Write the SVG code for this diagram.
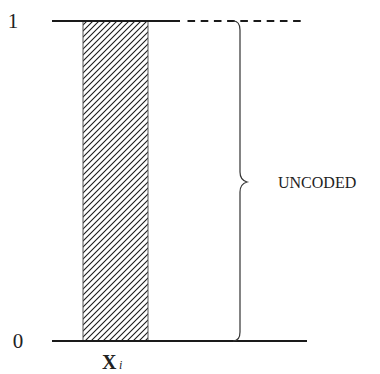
<svg xmlns="http://www.w3.org/2000/svg" width="380" height="374" viewBox="0 0 380 374">
<style>
.lbl{font-family:"Liberation Serif","Times New Roman",serif;fill:#222}
.axis{stroke:#1a1a1a;stroke-width:2;fill:none}
.brace{stroke:#333;stroke-width:1.2;fill:none}
</style>
<defs>
<pattern id="hatch" patternUnits="userSpaceOnUse" width="6" height="6">
<path d="M0,6 L6,0 M-1,1 L1,-1 M5,7 L7,5" stroke="#1a1a1a" stroke-width="1.1"/>
</pattern>
</defs>
<rect width="380" height="374" fill="#fff"/>
<g id="bar">
<rect x="83" y="21" width="65" height="320" fill="url(#hatch)"/>
<line x1="83" y1="21" x2="83" y2="341" stroke="#555" stroke-width="1"/>
<line x1="148" y1="21" x2="148" y2="341" stroke="#555" stroke-width="1"/>
</g>
<g id="connectors">
<line class="axis" x1="52" y1="21" x2="180" y2="21"/>
<line class="axis" x1="187.5" y1="21" x2="302" y2="21" stroke-dasharray="7.6 5.6"/>
<line class="axis" x1="52" y1="341" x2="307" y2="341"/>
<path class="brace" d="M233,21 Q240,21 240,30 L240,172 Q240,180 247,182 Q240,184 240,192 L240,332 Q240,341 233,341"/>
</g>
<g id="labels">
<text class="lbl" x="13" y="28" font-size="21" text-anchor="middle">1</text>
<text class="lbl" x="18" y="348" font-size="21" text-anchor="middle">0</text>
<text class="lbl" x="278" y="188" font-size="16">UNCODED</text>
<text class="lbl" x="102" y="369" font-size="20" font-weight="bold">X</text>
<text class="lbl" x="119" y="369" font-size="12" font-style="italic">i</text>
</g>
</svg>
